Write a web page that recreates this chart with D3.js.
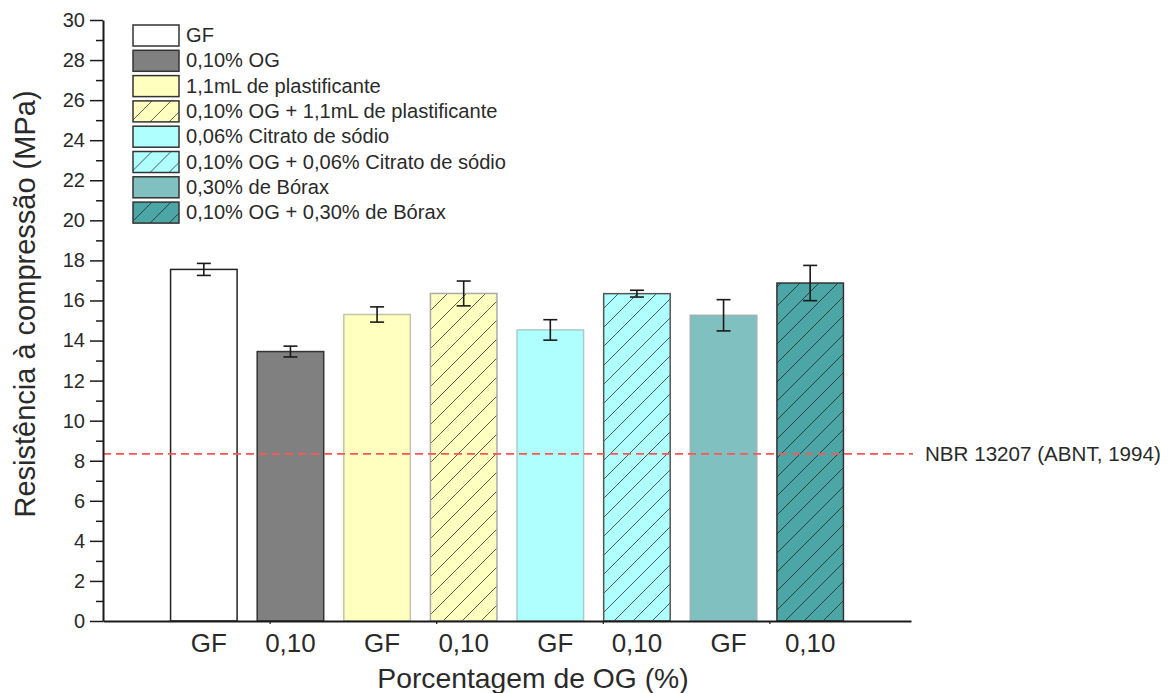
<!DOCTYPE html>
<html>
<head>
<meta charset="utf-8">
<script src="https://cdn.jsdelivr.net/npm/d3@7"></script>
<style>
  body { margin: 0; background: #fff; }
  svg { font-family: "Liberation Sans", Arial, sans-serif; }
</style>
</head>
<body>
<svg width="1170" height="693"></svg>
<script>
// data
const categories = ['GF', '0,10', 'GF', '0,10', 'GF', '0,10', 'GF', '0,10'];
const seriesNames = [
  'GF',
  '0,10% OG',
  '1,1mL de plastificante',
  '0,10% OG + 1,1mL de plastificante',
  '0,06% Citrato de sódio',
  '0,10% OG + 0,06% Citrato de sódio',
  '0,30% de Bórax',
  '0,10% OG + 0,30% de Bórax'
];
const means = [17.55, 13.45, 15.3, 16.35, 14.53, 16.34, 15.26, 16.87];
const errors = [0.3, 0.27, 0.38, 0.62, 0.51, 0.17, 0.78, 0.88];
const refValue = 8.34;
const refLabel = 'NBR 13207 (ABNT, 1994)';
const yTicks = d3.range(0, 31, 2);

// styles
const fills = ['#ffffff', '#808080', '#ffffc0', '#ffffc0', '#afffff', '#afffff', '#80c0c0', '#4da6a6'];
const strokes = ['#222', '#333', '#c4c4aa', '#aaa', '#a8cccc', '#555', '#a0b4b4', '#333'];
const hatched = [false, false, false, true, false, true, false, true];
const textColor = '#2a2a2a';

const svg = d3.select('svg');
const plotLeft = 103, plotRight = 911, plotTop = 20, plotBottom = 621;

const y = d3.scaleLinear().domain([0, 30]).range([plotBottom, plotTop]);
const x = d3.scaleBand()
  .domain(d3.range(categories.length))
  .range([plotLeft, plotRight])
  .paddingInner(0.232)
  .paddingOuter(0.78);

// hatch patterns
const defs = svg.append('defs');
fills.forEach((f, i) => {
  if (!hatched[i]) return;
  const p = defs.append('pattern')
    .attr('id', 'hatch' + i)
    .attr('patternUnits', 'userSpaceOnUse')
    .attr('width', 19)
    .attr('height', 19);
  p.append('rect').attr('width', 19).attr('height', 19).attr('fill', f);
  p.append('path')
    .attr('d', 'M0,19L19,0M-5,5L5,-5M14,24L24,14')
    .attr('stroke', '#1a1a1a')
    .attr('stroke-opacity', 0.7)
    .attr('stroke-width', 1);
});
const fillOf = i => hatched[i] ? `url(#hatch${i})` : fills[i];

// bars
svg.append('g').selectAll('rect')
  .data(means)
  .enter()
  .append('rect')
  .attr('x', (d, i) => x(i))
  .attr('y', d => y(d))
  .attr('width', x.bandwidth())
  .attr('height', d => y(0) - y(d))
  .attr('fill', (d, i) => fillOf(i))
  .attr('stroke', (d, i) => strokes[i])
  .attr('stroke-width', 1.5);

// error bars
const eb = svg.append('g').attr('stroke', '#1a1a1a').attr('stroke-width', 1.6);
means.forEach((m, i) => {
  const cx = x(i) + x.bandwidth() / 2;
  eb.append('line').attr('x1', cx).attr('x2', cx).attr('y1', y(m + errors[i])).attr('y2', y(m - errors[i]));
  [m + errors[i], m - errors[i]].forEach(v => {
    eb.append('line').attr('x1', cx - 7).attr('x2', cx + 7).attr('y1', y(v)).attr('y2', y(v));
  });
});

// reference line
svg.append('line')
  .attr('x1', plotLeft).attr('x2', plotRight + 2)
  .attr('y1', y(refValue)).attr('y2', y(refValue))
  .attr('stroke', '#ff5555')
  .attr('stroke-width', 1.6)
  .attr('stroke-dasharray', '8,5');
svg.append('text')
  .attr('x', plotRight + 14)
  .attr('y', y(refValue) + 7)
  .attr('font-size', 20.6)
  .attr('fill', textColor)
  .text(refLabel);

// y axis
const yMinor = svg.append('g')
  .attr('transform', `translate(${plotLeft},0)`)
  .call(d3.axisLeft(y).tickValues(d3.range(1, 30, 2)).tickSize(7).tickFormat(''));
yMinor.select('.domain').remove();
yMinor.selectAll('line').attr('stroke', '#1a1a1a').attr('stroke-width', 1.5);

const yAxis = svg.append('g')
  .attr('transform', `translate(${plotLeft},0)`)
  .call(d3.axisLeft(y).tickValues(yTicks).tickSize(13).tickSizeOuter(0).tickPadding(5));
yAxis.select('.domain').attr('stroke', '#1a1a1a').attr('stroke-width', 2);
yAxis.selectAll('.tick line').attr('stroke', '#1a1a1a').attr('stroke-width', 1.5);
yAxis.selectAll('text')
  .attr('font-size', 20)
  .attr('font-family', '"Liberation Sans", Arial, sans-serif')
  .attr('fill', textColor);

// x axis
const xAxis = svg.append('g')
  .attr('transform', `translate(0,${plotBottom})`)
  .call(d3.axisBottom(x).tickSize(0).tickSizeOuter(0).tickPadding(13).tickFormat(i => categories[i]));
xAxis.select('.domain').attr('stroke', '#1a1a1a').attr('stroke-width', 2);
xAxis.selectAll('text')
  .attr('font-size', 26)
  .attr('font-family', '"Liberation Sans", Arial, sans-serif')
  .attr('fill', textColor)
  .attr('dx', (i) => categories[i] === 'GF' ? 5 : 0);

// small ticks Origin puts on the category axis
const xMinor = d3.scaleLinear().domain([0, 4.85]).range([plotLeft, plotRight]);
const xm = svg.append('g')
  .attr('transform', `translate(0,${plotBottom})`)
  .call(d3.axisBottom(xMinor).tickValues([1, 2, 3, 4]).tickSize(3).tickFormat(''));
xm.select('.domain').remove();
xm.selectAll('line').attr('stroke', '#1a1a1a').attr('stroke-width', 1.2);

// axis titles
svg.append('text')
  .attr('x', 533)
  .attr('y', 688)
  .attr('text-anchor', 'middle')
  .attr('font-size', 28.3)
  .attr('fill', textColor)
  .text('Porcentagem de OG (%)');

svg.append('text')
  .attr('transform', 'translate(35,304) rotate(-90)')
  .attr('text-anchor', 'middle')
  .attr('font-size', 29)
  .attr('fill', textColor)
  .text('Resistência à compressão (MPa)');

// legend
const legend = svg.append('g').attr('transform', 'translate(133,25)');
const rows = legend.selectAll('g')
  .data(seriesNames)
  .enter()
  .append('g')
  .attr('transform', (d, i) => `translate(0,${i * 25.3})`);
rows.append('rect')
  .attr('width', 46)
  .attr('height', 21)
  .attr('fill', (d, i) => fillOf(i))
  .attr('stroke', '#333')
  .attr('stroke-width', 1.5);
rows.append('text')
  .attr('x', 53)
  .attr('y', 17)
  .attr('font-size', 20.1)
  .attr('fill', textColor)
  .text(d => d);
</script>
</body>
</html>
